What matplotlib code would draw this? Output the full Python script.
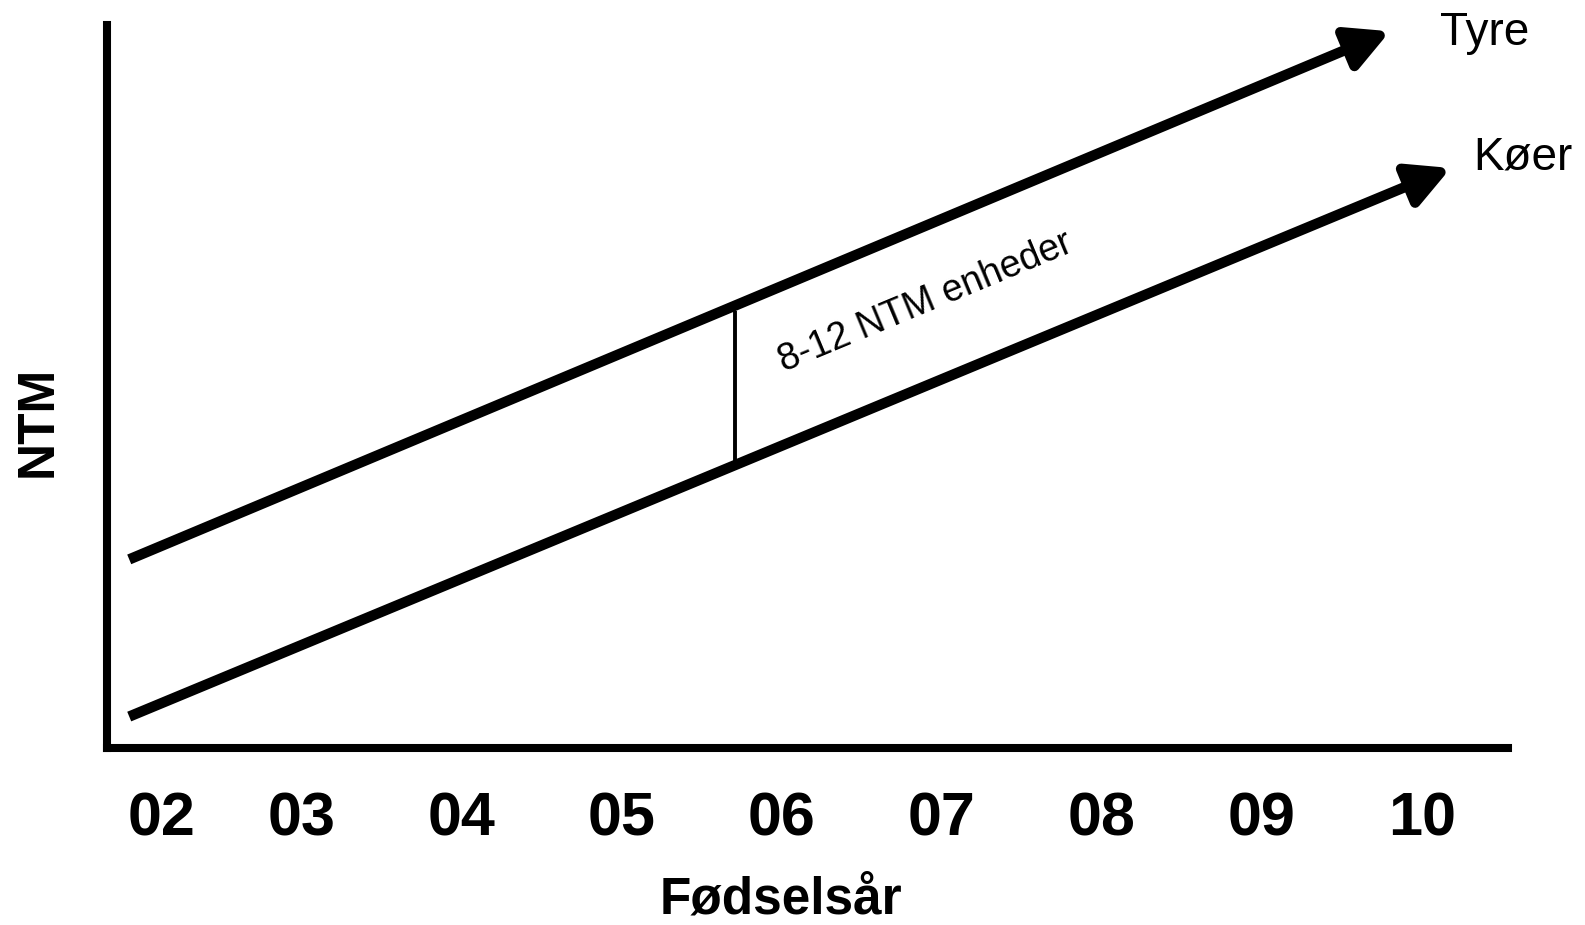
import matplotlib
matplotlib.use("Agg")
import matplotlib.pyplot as plt

plt.rcParams['font.family'] = ['Liberation Sans', 'DejaVu Sans']

# x in years (02..10), y in NTM units (schematic)
tick_pos = [2.12, 3, 4, 5, 6, 7, 8, 9, 10]
tick_labels = ["02", "03", "04", "05", "06", "07", "08", "09", "10"]

tyre_x = [1.92, 9.80]
tyre_y = [12.0, 45.6]
koer_x = [1.92, 10.18]
koer_y = [2.0, 36.9]

gap_x = 5.706
gap_y = [17.7, 27.8]

fig = plt.figure(figsize=(15.85, 9.25), dpi=100)
ax = fig.add_axes([0.0675, 0.19135, 0.9514 - 0.0675, 0.9730 - 0.19135])
ax.set_xlim(1.781, 10.5375)
ax.set_ylim(0, 46.0)

for s in ["top", "right"]:
    ax.spines[s].set_visible(False)
for s in ["left", "bottom"]:
    ax.spines[s].set_linewidth(5.8)
    ax.spines[s].set_capstyle("projecting")

ax.set_xticks(tick_pos)
ax.set_xticklabels(tick_labels, fontsize=44, fontweight="bold")
ax.tick_params(axis="x", length=0, pad=31)
ax.set_yticks([])

ax.set_xlabel("Fødselsår", fontsize=37, fontweight="bold")
ax.xaxis.set_label_coords((781 - 107) / 1401, (748 - 914) / 727)
ax.xaxis.label.set_va("baseline")
ax.set_ylabel("NTM", fontsize=37, fontweight="bold", rotation_mode="anchor")
ax.yaxis.set_label_coords((52 - 107) / 1401, (748 - 420) / 727)
ax.yaxis.label.set_ha("center")
ax.yaxis.label.set_va("baseline")

arrow_style = dict(arrowstyle="-|>,head_length=0.42,head_width=0.22", lw=7.5,
                   color="black", shrinkA=0, shrinkB=0, mutation_scale=60,
                   capstyle="butt")
ax.annotate("", xy=(tyre_x[1], tyre_y[1]), xytext=(tyre_x[0], tyre_y[0]),
            arrowprops=arrow_style, annotation_clip=False)
ax.annotate("", xy=(koer_x[1], koer_y[1]), xytext=(koer_x[0], koer_y[0]),
            arrowprops=arrow_style, annotation_clip=False)

ax.plot([gap_x, gap_x], gap_y, color="black", lw=2.8, solid_capstyle="butt")

ax.text(10.39, 44.75, "Tyre", fontsize=33, ha="center", va="baseline", clip_on=False)
ax.text(10.63, 36.8, "Køer", fontsize=33, ha="center", va="baseline", clip_on=False)
ax.text(6.894, 28.34, "8-12 NTM enheder", fontsize=27, rotation=22.6,
        rotation_mode="anchor", ha="center", va="center")

fig.savefig("out.png", dpi=100)
